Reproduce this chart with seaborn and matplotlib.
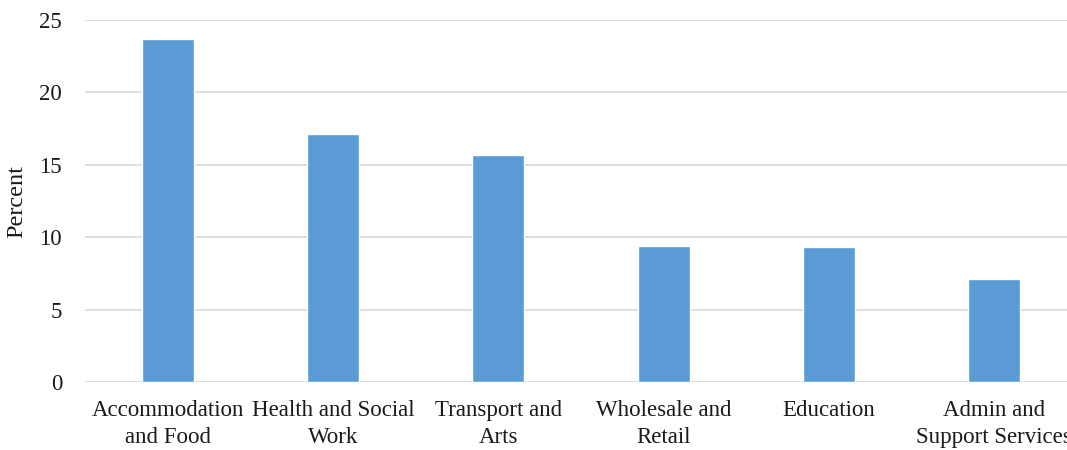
import matplotlib
matplotlib.use("Agg")
import matplotlib.pyplot as plt
import seaborn as sns
import pandas as pd

# =========================
# DATA
# =========================
categories = [
    "Accommodation\nand Food",
    "Health and Social\nWork",
    "Transport and\nArts",
    "Wholesale and\nRetail",
    "Education",
    "Admin and\nSupport Services",
]

percent = [23.7, 17.1, 15.7, 9.4, 9.3, 7.1]

y_ticks = [0, 5, 10, 15, 20, 25]

df = pd.DataFrame({"Category": categories, "Percent": percent})

# =========================
# STYLE
# =========================
sns.set_style("white")
plt.rcParams["font.family"] = ["Liberation Serif", "DejaVu Serif"]

fig = plt.figure(figsize=(10.67, 4.5), dpi=100)
ax = fig.add_axes([85 / 1067, 68 / 450, (1077 - 85) / 1067, 362 / 450])

sns.barplot(
    data=df,
    x="Category",
    y="Percent",
    color="#5B9BD5",
    saturation=1,
    width=0.313,
    ax=ax,
)

# =========================
# AXES
# =========================
ax.set_ylim(0, 25)
ax.set_xlim(-0.5, 5.5)
ax.set_yticks(y_ticks)
ax.yaxis.grid(True, color="#D9D9D9", linewidth=1.2)
ax.set_axisbelow(True)

for side in ["top", "right", "left", "bottom"]:
    ax.spines[side].set_visible(False)

ax.axhline(0, color="#D9D9D9", linewidth=1.2, zorder=0)

ax.tick_params(axis="both", length=0, labelsize=16.5, colors="#1a1a1a")
ax.tick_params(axis="y", pad=16.5)
ax.tick_params(axis="x", pad=13)

for lbl in ax.get_xticklabels():
    lbl.set_linespacing(1.4)

ax.set_xlabel("")
ax.set_ylabel("Percent", fontsize=17.5, color="#1a1a1a", labelpad=9)

plt.savefig("out.png", dpi=100)
plt.close()
